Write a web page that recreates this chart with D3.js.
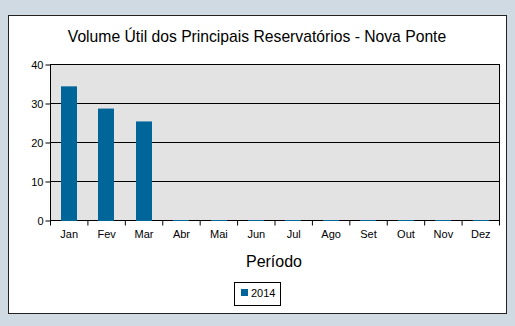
<!DOCTYPE html>
<html><head><meta charset="utf-8">
<script src="https://cdn.jsdelivr.net/npm/d3@7"></script>
<style>
html,body{margin:0;padding:0;background:#D0DAE3;}
svg{display:block;font-family:"Liberation Sans",Arial,sans-serif;}
</style></head>
<body>
<svg id="c" width="515" height="326"></svg>
<script>
const categories = ["Jan","Fev","Mar","Abr","Mai","Jun","Jul","Ago","Set","Out","Nov","Dez"];
const values2014 = [34.4, 28.7, 25.4, 0, 0, 0, 0, 0, 0, 0, 0, 0];
const yTicks = [0, 10, 20, 30, 40];
const seriesName = "2014";

const svg = d3.select("#c");
svg.append("rect").attr("x",8.5).attr("y",15.5).attr("width",498).attr("height",298)
  .attr("fill","#fff").attr("stroke","#222").attr("stroke-width",1);

const L=50.5, R=499.5, T=64.5, B=220.5;
const x = d3.scaleBand().domain(categories).range([L,R]).paddingInner(0.56).paddingOuter(0.28);
const xb = d3.scaleBand().domain(categories).range([L,R]);
const y = d3.scaleLinear().domain([0,40]).range([B,T]);

svg.append("rect").attr("x",L).attr("y",T).attr("width",R-L).attr("height",B-T).attr("fill","#E3E3E3");

svg.append("g").selectAll("line").data(yTicks.filter(d=>d>0 && d<40)).join("line")
  .attr("x1",L).attr("x2",R).attr("y1",d=>y(d)).attr("y2",d=>y(d)).attr("stroke","#000");

svg.append("rect").attr("x",L).attr("y",T).attr("width",R-L).attr("height",B-T)
  .attr("fill","none").attr("stroke","#000");

svg.append("g").selectAll("rect").data(values2014).join("rect")
  .attr("x",(d,i)=>Math.round(x(categories[i])))
  .attr("width",Math.round(x.bandwidth()))
  .attr("y",d=> d>0 ? y(d) : B-0.5)
  .attr("height",d=> d>0 ? B-y(d)+0.5 : 1)
  .attr("fill","#00669A");

// y axis
const ya = svg.append("g").attr("transform",`translate(${L},0)`)
  .call(d3.axisLeft(y).tickValues(yTicks).tickSize(5).tickSizeOuter(0).tickPadding(2));
ya.select(".domain").remove();
ya.selectAll("line").attr("stroke","#000");
ya.selectAll("text").attr("font-size","11px").attr("fill","#000").attr("font-family","Liberation Sans, Arial, sans-serif");

// x axis ticks at band boundaries
const bounds = categories.map(c=>xb(c)).concat([R]);
svg.append("g").selectAll("line").data(bounds).join("line")
  .attr("x1",d=>d).attr("x2",d=>d).attr("y1",B+0.5).attr("y2",B+5).attr("stroke","#000");
svg.append("g").selectAll("text").data(categories).join("text")
  .attr("x",d=>xb(d)+xb.bandwidth()/2).attr("y",238)
  .attr("text-anchor","middle").attr("font-size","11px").attr("fill","#000").text(d=>d);

svg.append("text").attr("x",257).attr("y",42).attr("text-anchor","middle")
  .attr("font-size","15.7px").attr("fill","#000").text("Volume Útil dos Principais Reservatórios - Nova Ponte");
svg.append("text").attr("x",274).attr("y",267).attr("text-anchor","middle")
  .attr("font-size","16px").attr("fill","#000").text("Período");

// legend
const lg = svg.append("g");
lg.append("rect").attr("x",234.5).attr("y",282.5).attr("width",46).attr("height",23).attr("fill","#fff").attr("stroke","#000");
lg.append("rect").attr("x",241).attr("y",289).attr("width",7).attr("height",7).attr("fill","#00669A");
lg.append("text").attr("x",251).attr("y",297).attr("font-size","11px").attr("fill","#000").text(seriesName);
</script>
</body></html>
